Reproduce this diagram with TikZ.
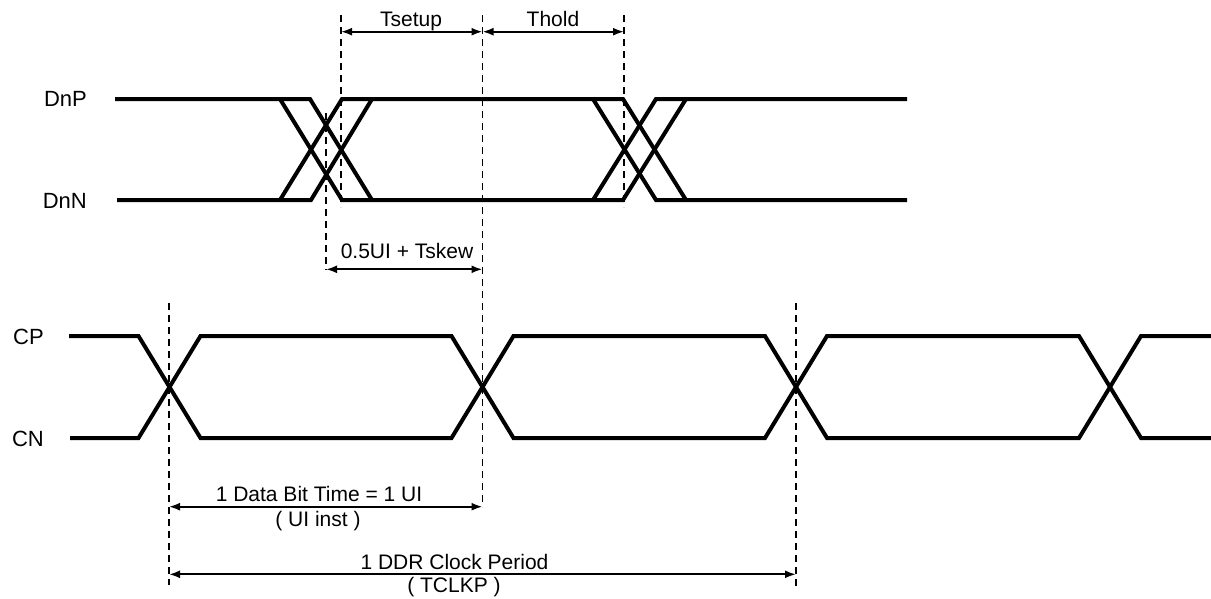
\documentclass[tikz,border=0pt]{standalone}
\usepackage{fontspec}
\setmainfont{Liberation Sans}
\usetikzlibrary{arrows.meta}
\begin{document}
\begin{tikzpicture}[x=1pt,y=-1pt,
  sig/.style={line width=4pt},
  guide/.style={line width=1.8pt, dash pattern=on 7pt off 5pt},
  dim/.style={line width=2pt, {Latex[length=11pt,width=8pt]}-{Latex[length=11pt,width=8pt]}},
  lbl/.style={font=\fontsize{21}{25}\selectfont, inner sep=0pt, anchor=base},
  sname/.style={font=\fontsize{22}{26}\selectfont, inner sep=0pt, anchor=base east}]
\useasboundingbox (0,0) rectangle (1211,598);

% signal names
\node[sname] (dnp) at (87,106.7) {DnP};
\node[sname] (dnn) at (87,208) {DnN};
\node[sname] (cp) at (44,344) {CP};
\node[sname] (cn) at (44,446) {CN};

% data eye traces
\draw[sig] (115,99) -- (310,99) -- (372,200);
\draw[sig] (117,200) -- (311,200) -- (372,99);
\draw[sig] (280,99) -- (342,200) -- (623,200) -- (686,99);
\draw[sig] (280,200) -- (342,99) -- (623,99) -- (686,200);
\draw[sig] (593,99) -- (656,200) -- (907,200);
\draw[sig] (593,200) -- (656,99) -- (907,99);

% clock traces
\draw[sig] (69,336) -- (138.5,336) -- (200.5,438) -- (451.5,438) -- (513.5,336) -- (765,336) -- (827,438) -- (1079,438) -- (1141,336) -- (1211,336);
\draw[sig] (70,438) -- (138.5,438) -- (200.5,336) -- (451.5,336) -- (513.5,438) -- (765,438) -- (827,336) -- (1079,336) -- (1141,438) -- (1211,438);

% guide coordinates
\coordinate (g1t) at (341,15);   \coordinate (g1b) at (341,207);
\coordinate (g2t) at (482.5,15); \coordinate (g2b) at (482.5,507);
\coordinate (g3t) at (624,15);   \coordinate (g3b) at (624,207);
\coordinate (g4t) at (326,113);  \coordinate (g4b) at (326,270);
\coordinate (g5t) at (169,303);  \coordinate (g5b) at (169,585);
\coordinate (g6t) at (796,303);  \coordinate (g6b) at (796,586);
\foreach \g in {1,...,6} \draw[guide] (g\g t) -- (g\g b);

% dimension arrows
\coordinate (su1) at (341,31.7);   \coordinate (su2) at (482.5,31.7);
\coordinate (ho2) at (624,31.7);
\coordinate (sk1) at (326,269.3);  \coordinate (sk2) at (482.5,269.3);
\coordinate (ui1) at (169,506.7);  \coordinate (ui2) at (482.5,506.7);
\coordinate (ck1) at (169,574.3);  \coordinate (ck2) at (796,574.3);
\draw[dim] (su1) -- (su2);
\draw[dim] (su2) -- (ho2);
\draw[dim] (sk1) -- (sk2);
\draw[dim] (ui1) -- (ui2);
\draw[dim] (ck1) -- (ck2);

% labels
\node[lbl] (tsetup) at (411,26.7) {Tsetup};
\node[lbl] (thold) at (553,26.7) {Thold};
\node[lbl] (tskew) at (407,258) {0.5UI + Tskew};
\node[lbl] (ui) at (319,501.7) {1 Data Bit Time = 1 UI};
\node[lbl] (uiinst) at (318,526) {( UI inst )};
\node[lbl] (clk) at (454.5,569.3) {1 DDR Clock Period};
\node[lbl] (tclkp) at (454,592.5) {( TCLKP )};
\end{tikzpicture}
\end{document}
